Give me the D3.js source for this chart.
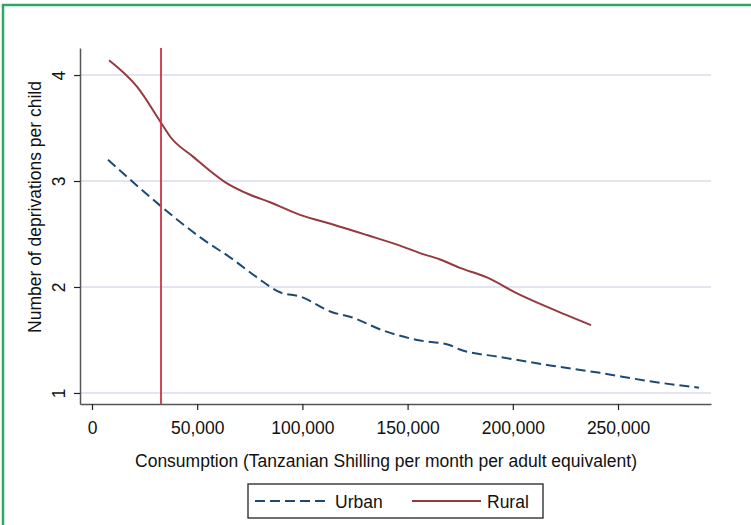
<!DOCTYPE html>
<html>
<head>
<meta charset="utf-8">
<script src="https://cdn.jsdelivr.net/npm/d3@7"></script>
<style>
  html, body { margin: 0; background: #fff; overflow: hidden; }
  svg { display: block; }
  svg text { font-family: "Liberation Sans", Arial, sans-serif; fill: #111; }
</style>
</head>
<body>
<div id="chart"></div>
<script>
const w = 751;
const h = 525;

// consumption (TSh / month / adult eq.) and deprivations per child
const urbanX = [7600, 32300, 51300, 67000, 78400, 89400, 98900, 114500, 122600, 138300, 154500, 170200, 174900, 193900, 217700, 241400, 265200, 288500];
const urbanY = [3.20, 2.77, 2.47, 2.26, 2.09, 1.95, 1.91, 1.76, 1.72, 1.59, 1.50, 1.45, 1.41, 1.34, 1.26, 1.19, 1.11, 1.05];
const ruralX = [8100, 21400, 32800, 37100, 48000, 63200, 75100, 84600, 98900, 114500, 130700, 146400, 155900, 165400, 174900, 187700, 202000, 217700, 237200];
const ruralY = [4.14, 3.89, 3.55, 3.42, 3.23, 2.99, 2.87, 2.80, 2.68, 2.59, 2.49, 2.39, 2.32, 2.26, 2.18, 2.09, 1.94, 1.80, 1.64];
const povertyLine = 32800;
const xTicks = [0, 50000, 100000, 150000, 200000, 250000];
const yTicks = [1, 2, 3, 4];
const seriesNames = ["Urban", "Rural"];

const plot = {left: 80, right: 711, top: 48, bottom: 404};
const fs = 17.5;

const svg = d3.select("#chart").append("svg")
  .attr("width", w).attr("height", h);

// green frame: only the top and left edges fall inside the picture
svg.append("line")
  .attr("x1", 3).attr("x2", 3).attr("y1", 4).attr("y2", h)
  .attr("stroke", "#2fa862").attr("stroke-width", 2.5);
svg.append("line")
  .attr("x1", 2).attr("x2", w).attr("y1", 5).attr("y2", 5)
  .attr("stroke", "#2fa862").attr("stroke-width", 2.5);

const x = d3.scaleLinear().domain([-5700, 294200]).range([plot.left, plot.right]);
const y = d3.scaleLinear().domain([0.896, 4.255]).range([plot.bottom, plot.top]);

// grid
svg.append("g").selectAll("line")
  .data(yTicks).enter().append("line")
  .attr("x1", plot.left).attr("x2", plot.right)
  .attr("y1", (d) => y(d)).attr("y2", (d) => y(d))
  .attr("stroke", "#e3e3f2").attr("stroke-width", 2);

// axes
const xAxis = svg.append("g")
  .attr("transform", `translate(0,${plot.bottom})`)
  .call(d3.axisBottom(x).tickValues(xTicks).tickFormat(d3.format(",")).tickSize(6).tickPadding(12).tickSizeOuter(0));
const yAxis = svg.append("g")
  .attr("transform", `translate(${plot.left},0)`)
  .call(d3.axisLeft(y).tickValues(yTicks).tickFormat(d3.format("d")).tickSize(6).tickPadding(6).tickSizeOuter(0));

[xAxis, yAxis].forEach((g) => {
  g.select(".domain").attr("stroke", "#555").attr("stroke-width", 1.5);
  g.selectAll(".tick line").attr("stroke", "#222").attr("stroke-width", 1.2);
  g.selectAll(".tick text").attr("font-size", fs).attr("fill", "#111")
    .style("font-family", '"Liberation Sans", Arial, sans-serif');
});
yAxis.selectAll(".tick text")
  .attr("text-anchor", "middle")
  .attr("x", 0).attr("dy", 0)
  .attr("transform", "translate(-15,0) rotate(-90)")
  .attr("y", 0);

// axis titles
svg.append("text")
  .attr("x", 386).attr("y", 467)
  .attr("text-anchor", "middle").attr("font-size", fs)
  .text("Consumption (Tanzanian Shilling per month per adult equivalent)");
svg.append("text")
  .attr("transform", "translate(41,207) rotate(-90)")
  .attr("text-anchor", "middle").attr("font-size", fs)
  .text("Number of deprivations per child");

// lines
const line = d3.line().x((d) => x(d[0])).y((d) => y(d[1])).curve(d3.curveMonotoneX);
const urban = d3.zip(urbanX, urbanY);
const rural = d3.zip(ruralX, ruralY);

svg.append("path").datum(urban)
  .attr("d", line).attr("fill", "none")
  .attr("stroke", "#1d4a73").attr("stroke-width", 2)
  .attr("stroke-dasharray", "10,5");
svg.append("path").datum(rural)
  .attr("d", line).attr("fill", "none")
  .attr("stroke", "#963a40").attr("stroke-width", 2);

// poverty line
svg.append("line")
  .attr("x1", x(povertyLine)).attr("x2", x(povertyLine))
  .attr("y1", plot.top).attr("y2", plot.bottom)
  .attr("stroke", "#cc3347").attr("stroke-width", 1.8);

// legend
const legend = svg.append("g");
legend.append("rect")
  .attr("x", 248).attr("y", 484).attr("width", 295).attr("height", 34)
  .attr("fill", "#fff").attr("stroke", "#222").attr("stroke-width", 1.3);
const items = [
  {name: seriesNames[0], color: "#1d4a73", dash: "10,5", x0: 255, x1: 325, tx: 335},
  {name: seriesNames[1], color: "#963a40", dash: null, x0: 412, x1: 481, tx: 487}
];
items.forEach((it) => {
  legend.append("line")
    .attr("x1", it.x0).attr("x2", it.x1).attr("y1", 501).attr("y2", 501)
    .attr("stroke", it.color).attr("stroke-width", 2)
    .attr("stroke-dasharray", it.dash);
  legend.append("text")
    .attr("x", it.tx).attr("y", 508).attr("font-size", fs)
    .text(it.name);
});
</script>
</body>
</html>
